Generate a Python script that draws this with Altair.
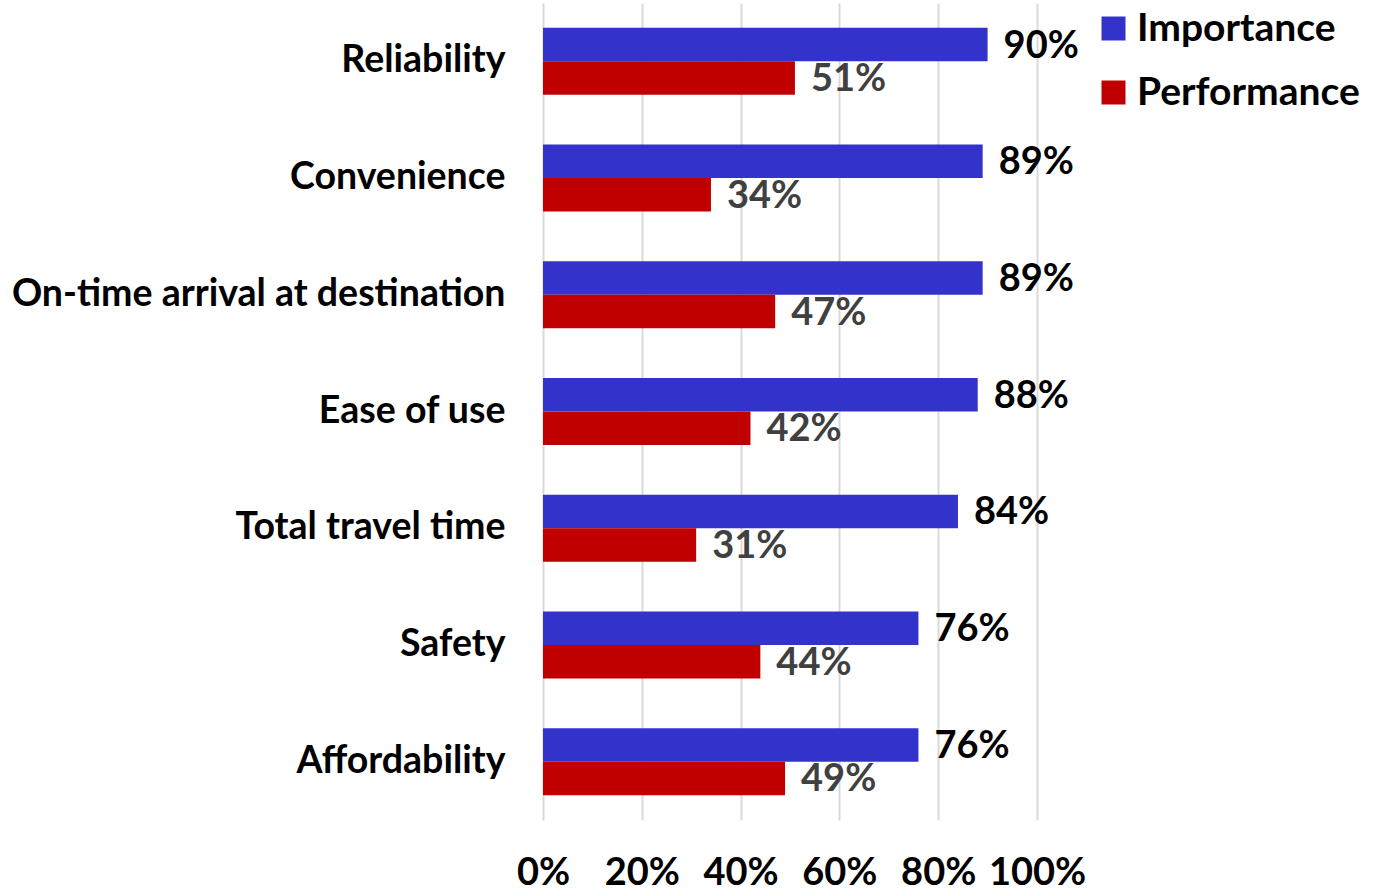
import altair as alt
import pandas as pd

categories = ["Reliability", "Convenience", "On-time arrival at destination",
              "Ease of use", "Total travel time", "Safety", "Affordability"]
importance = [90, 89, 89, 88, 84, 76, 76]
performance = [51, 34, 47, 42, 31, 44, 49]
series = ["Importance", "Performance"]
colors = ["#3333CC", "#C00000"]
x_ticks = [0, 20, 40, 60, 80, 100]

rows = []
for c, i, p in zip(categories, importance, performance):
    rows.append({"Category": c, "Series": series[0], "Value": i})
    rows.append({"Category": c, "Series": series[1], "Value": p})
df = pd.DataFrame(rows)

FONT = "Lato"

y_enc = alt.Y("Category:N", sort=categories,
              scale=alt.Scale(paddingInner=0.426, paddingOuter=0.213),
              axis=alt.Axis(title=None, labelFontSize=37.5, labelFontWeight="bold",
                            labelColor="black", labelPadding=38, ticks=False,
                            domain=False, labelLimit=700, labelFont=FONT))
x_enc = alt.X("Value:Q", scale=alt.Scale(domain=[0, 100], nice=False),
              axis=alt.Axis(title=None, values=x_ticks, labelExpr="datum.value + '%'",
                            labelFontSize=38, labelFontWeight="bold", labelColor="black",
                            labelPadding=34, ticks=False, domain=False, grid=True,
                            labelOverlap=False, labelFlush=False,
                            gridColor="#d9d9d9", gridWidth=2, labelFont=FONT))
yoff = alt.YOffset("Series:N", sort=series)

bars = alt.Chart(df).mark_bar().encode(
    y=y_enc, x=x_enc, yOffset=yoff,
    color=alt.Color("Series:N", sort=series,
                    scale=alt.Scale(domain=series, range=colors),
                    legend=alt.Legend(title=None, orient="none", legendX=551, legendY=6,
                                      symbolType="square", symbolSize=576,
                                      symbolStrokeWidth=0, labelFontSize=39,
                                      labelFontWeight="bold", labelColor="black",
                                      labelFont=FONT, rowPadding=24, labelOffset=4,
                                      labelLimit=400)),
)

labels = alt.Chart(df).transform_calculate(
    label="datum.Value + '%'"
).mark_text(align="left", baseline="middle", dx=16, dy=2, fontSize=38,
            fontWeight="bold", font=FONT).encode(
    y=alt.Y("Category:N", sort=categories), x="Value:Q", yOffset=yoff,
    text="label:N",
    color=alt.condition(alt.datum.Series == "Importance",
                        alt.value("black"), alt.value("#404040")),
)

chart = alt.layer(bars, labels).properties(
    width=494, height=817,
    autosize=alt.AutoSizeParams(type="none"),
    padding={"left": 543, "top": 3, "right": 340, "bottom": 72},
).configure(font=FONT).configure_view(stroke=None)

chart.save("out.html", embed_options={"renderer": "svg", "actions": False})
